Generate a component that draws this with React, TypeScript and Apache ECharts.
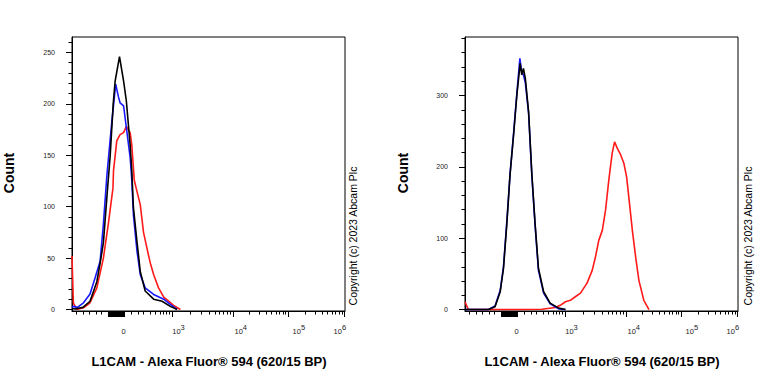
import React, { useEffect, useRef } from 'react';
import * as echarts from 'echarts';

// Display channel scale (0..1000) of the biexponential axis
const X_DECADES = [189, 368, 590, 792, 998]; // 0, 10^3, 10^4, 10^5, 10^6
const X_TICK_LABELS = ['0', '10^3', '10^4', '10^5', '10^6'];
const X_LABEL_VALUES = [189, 390, 618, 831, 981];
const X_NEG_MINOR = [16, 40, 65, 87, 108];
const X_LIN_MINOR = [218, 243, 261, 286, 304, 322, 335, 347, 357];

const LEFT_Y_MAJOR = [0, 50, 100, 150, 200, 250];
const RIGHT_Y_MAJOR = [0, 100, 200, 300];

const LEFT_RED = [[0, 52], [5, 6.5], [17, 0], [42, 1.6], [66, 6.5], [91, 21], [115, 50], [133, 83], [150, 118], [152, 135], [164, 164], [176, 170], [189, 172], [199, 178], [213, 172], [219, 160], [228, 126], [235, 118], [250, 102], [262, 75], [280, 53], [287, 45], [299, 34], [317, 21], [336, 12], [354, 8], [372, 4], [397, 0]];
const LEFT_BLUE = [[0, 2], [4, 3], [20, 2], [42, 6.5], [66, 15], [85, 31], [103, 47], [115, 83], [128, 131], [146, 183], [160, 219], [170, 207], [176, 201], [189, 198], [201, 173], [213, 148], [219, 126], [225, 92], [238, 57], [250, 34], [268, 21], [299, 14.6], [336, 10], [360, 5], [385, 0]];
const LEFT_BLACK = [[0, 1], [11, 0.5], [40, 2], [66, 8], [91, 27], [103, 45], [115, 65], [128, 110], [140, 150], [151, 200], [158, 222], [174, 246], [189, 222], [199, 203], [213, 160], [219, 135], [225, 99], [238, 66], [250, 37], [268, 18], [299, 10], [330, 8], [360, 3], [385, 0]];

const RIGHT_RED = [[0, 11], [12, 0], [213, 0], [282, 0.5], [331, 3], [349, 6], [368, 11], [386, 13], [404, 18], [423, 23], [447, 37], [466, 55], [478, 74], [490, 97], [503, 111], [515, 140], [527, 182], [539, 219], [548, 235], [558, 226], [570, 217], [582, 205], [592, 186], [600, 158], [613, 111], [625, 74], [637, 41], [655, 13], [674, 0]];
const RIGHT_BLUE = [[0, 0], [86, 0], [110, 5], [129, 27], [141, 60], [153, 122], [165, 190], [178, 247], [190, 303], [201, 352], [207, 335], [213, 330], [221, 318], [233, 275], [245, 187], [257, 117], [269, 55], [288, 23], [312, 8], [343, 1], [368, 0]];
const RIGHT_BLACK = [[0, 0], [86, 0], [110, 4], [129, 25], [141, 58], [153, 119], [165, 189], [178, 245], [190, 301], [202, 345], [208, 329], [214, 338], [221, 324], [233, 277], [245, 189], [257, 119], [269, 58], [288, 25], [312, 9], [343, 2], [368, 0]];

const X_TITLE = 'L1CAM - Alexa Fluor® 594 (620/15 BP)';
const Y_TITLE = 'Count';
const COPYRIGHT = 'Copyright (c) 2023 Abcam Plc';

const FONT = '"Liberation Sans", Arial, sans-serif';

function buildMinorX(): number[] {
  const out: number[] = [...X_NEG_MINOR, ...X_LIN_MINOR];
  for (let d = 1; d < X_DECADES.length - 1; d++) {
    const a = X_DECADES[d];
    const b = X_DECADES[d + 1];
    for (let k = 2; k <= 9; k++) out.push(a + (b - a) * Math.log10(k));
  }
  return out;
}

function buildCluster(): number[] {
  const out: number[] = [];
  for (let v = 132; v <= 194; v += 1.8) out.push(v);
  return out;
}

function xLabelFormatter(value: number): string {
  let best = 0;
  for (let i = 0; i < X_LABEL_VALUES.length; i++) {
    if (Math.abs(X_LABEL_VALUES[i] - value) < Math.abs(X_LABEL_VALUES[best] - value)) best = i;
  }
  const t = X_TICK_LABELS[best];
  if (t.indexOf('^') < 0) return '{b|' + t + '}';
  const [base, exp] = t.split('^');
  return '{b|' + base + '}{s|' + exp + '}';
}

function range(start: number, end: number, step: number, skip: number[]): number[] {
  const out: number[] = [];
  for (let v = start; v <= end; v += step) if (skip.indexOf(v) < 0) out.push(v);
  return out;
}

export default function App() {
  const ref = useRef<HTMLDivElement>(null);
  useEffect(() => {
    if (!ref.current) return;
    const chart = echarts.init(ref.current, null, { renderer: 'svg' });
    const minorX = buildMinorX();
    const cluster = buildCluster();
    const grids = [
      { left: 72, top: 37, width: 273, height: 274 },
      { left: 465, top: 37, width: 273, height: 274 },
    ];
    const xAxes: any[] = [];
    const yAxes: any[] = [];
    const yConf = [
      { min: -1.5, max: 265, major: LEFT_Y_MAJOR, minor: range(0, 260, 10, LEFT_Y_MAJOR) },
      { min: -2, max: 382, major: RIGHT_Y_MAJOR, minor: range(0, 380, 20, RIGHT_Y_MAJOR) },
    ];
    grids.forEach((_, gi) => {
      xAxes.push({
        type: 'value', gridIndex: gi, position: 'bottom', min: 0, max: 1000,
        axisLine: { show: true, onZero: false, lineStyle: { color: '#000', width: 1 } },
        axisTick: { show: true, length: 6, customValues: [...X_DECADES, ...cluster], lineStyle: { color: '#000', width: 1 } },
        axisLabel: {
          show: true, customValues: X_LABEL_VALUES, margin: 12, formatter: xLabelFormatter,
          rich: {
            b: { fontSize: 7.5, fontFamily: FONT, color: '#222', lineHeight: 12, verticalAlign: 'bottom' },
            s: { fontSize: 7.5, fontFamily: FONT, color: '#222', lineHeight: 8, verticalAlign: 'top' },
          },
        },
        splitLine: { show: false },
      });
      xAxes.push({
        type: 'value', gridIndex: gi, position: 'bottom', min: 0, max: 1000,
        axisLine: { show: false, onZero: false },
        axisTick: { show: true, length: 3.5, customValues: minorX, lineStyle: { color: '#000', width: 1 } },
        axisLabel: { show: false },
        splitLine: { show: false },
      });
      const c = yConf[gi];
      yAxes.push({
        type: 'value', gridIndex: gi, position: 'left', min: c.min, max: c.max,
        axisLine: { show: true, onZero: false, lineStyle: { color: '#000', width: 1 } },
        axisTick: { show: true, length: 6, customValues: c.major, lineStyle: { color: '#000', width: 1 } },
        axisLabel: { show: true, customValues: c.major, margin: 17, fontSize: 7, fontFamily: FONT, color: '#222' },
        splitLine: { show: false },
      });
      yAxes.push({
        type: 'value', gridIndex: gi, position: 'left', min: c.min, max: c.max,
        axisLine: { show: false, onZero: false },
        axisTick: { show: true, length: 3.5, customValues: c.minor, lineStyle: { color: '#000', width: 1 } },
        axisLabel: { show: false },
        splitLine: { show: false },
      });
    });

    const line = (data: number[][], color: string, xi: number, yi: number) => ({
      type: 'line', data, xAxisIndex: xi, yAxisIndex: yi, symbol: 'none', smooth: false,
      lineStyle: { color, width: 1.6 }, silent: true,
    });

    const textEl = (text: string, x: number, y: number, size: number, bold: boolean, rot: number) => ({
      type: 'text', x, y, rotation: rot,
      style: { text, fontSize: size, fontWeight: bold ? 'bold' : 'normal', fontFamily: FONT, fill: '#000', align: 'center', verticalAlign: 'middle' },
    });

    chart.setOption({
      animation: false,
      backgroundColor: '#fff',
      grid: grids.map((g) => ({ ...g, show: true, borderColor: '#000', borderWidth: 1, backgroundColor: 'transparent' })),
      xAxis: xAxes,
      yAxis: yAxes,
      series: [
        line(LEFT_RED, '#ff1a1a', 0, 0),
        line(LEFT_BLUE, '#1a1aff', 0, 0),
        line(LEFT_BLACK, '#000000', 0, 0),
        line(RIGHT_RED, '#ff1a1a', 2, 2),
        line(RIGHT_BLUE, '#1a1aff', 2, 2),
        line(RIGHT_BLACK, '#000000', 2, 2),
      ],
      graphic: [
        textEl(Y_TITLE, 9, 173, 14, true, Math.PI / 2),
        textEl(Y_TITLE, 403, 173, 14, true, Math.PI / 2),
        textEl(X_TITLE, 209, 361, 13, true, 0),
        textEl(X_TITLE, 602, 361, 13, true, 0),
        textEl(COPYRIGHT, 353, 236, 10.5, false, Math.PI / 2),
        textEl(COPYRIGHT, 748, 236, 10.5, false, Math.PI / 2),
      ],
    });
    return () => chart.dispose();
  }, []);
  return <div ref={ref} style={{ position: 'fixed', left: 0, top: 0, width: 768, height: 384 }} />;
}
